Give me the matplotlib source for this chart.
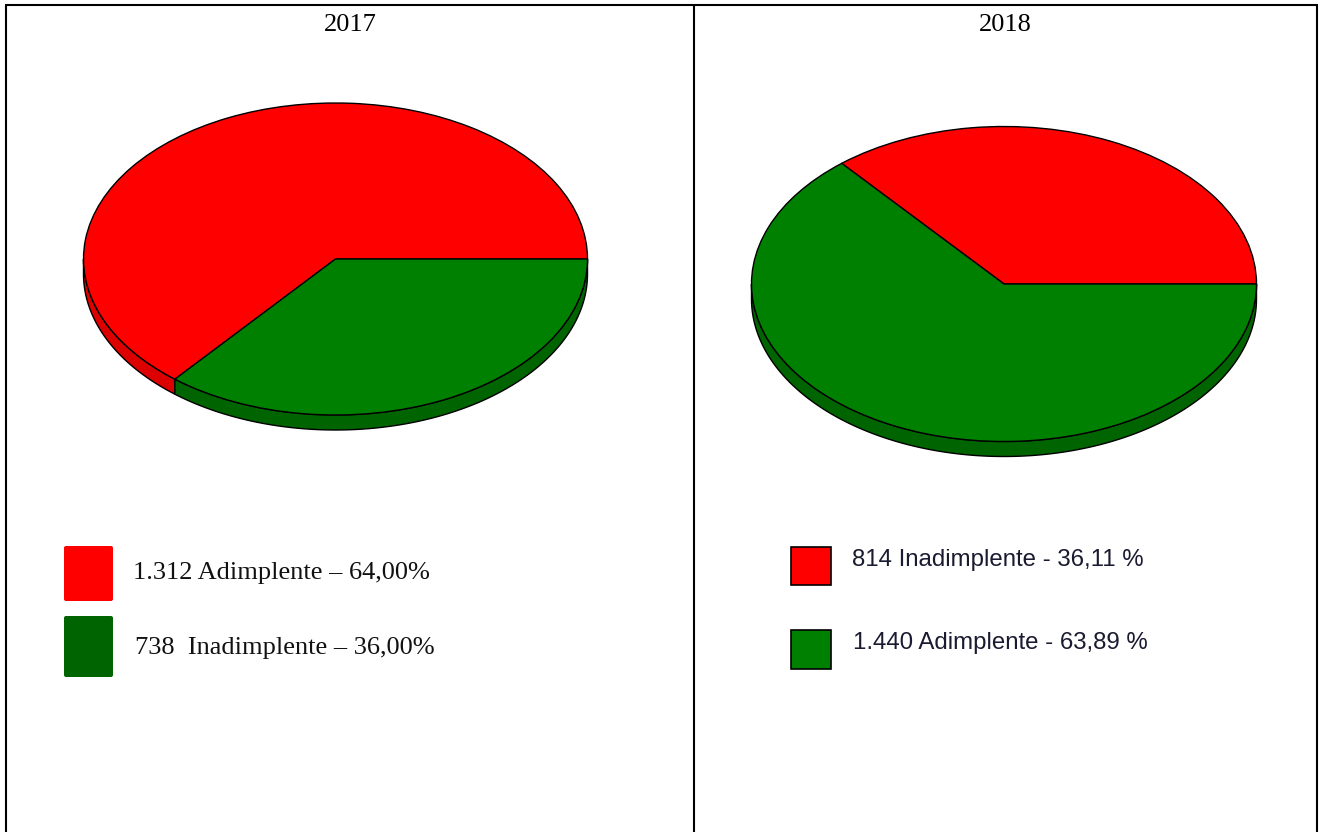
"""Two pseudo-3D pies, 2017 and 2018, in a table-like frame."""

import matplotlib

matplotlib.use("Agg")

import matplotlib.pyplot as plt
import numpy as np
from matplotlib.patches import FancyBboxPatch, Rectangle

W, H = 1324, 832

YEARS = ["2017", "2018"]

VALUES_2017 = [1312, 738]
VALUES_2018 = [814, 1440]

LABELS_2017 = ["1.312 Adimplente – 64,00%", "738  Inadimplente – 36,00%"]
LABELS_2018 = ["814 Inadimplente - 36,11 %", "1.440 Adimplente - 63,89 %"]

RED = "#ff0000"
GREEN = "#008000"
DARK_RED = "#dd0000"
DARK_GREEN = "#006400"


def draw_pie(fig, cx, cy, rx, ry, depth, values, colors, side_colors):
    # axes limits are +-1.25, so one data unit is rx by ry pixels
    ax = fig.add_axes(
        [(cx - 1.25 * rx) / W, 1 - (cy + 1.25 * ry) / H, 2.5 * rx / W, 2.5 * ry / H]
    )
    d = depth / ry
    edges = np.cumsum([0] + values) / sum(values) * 2 * np.pi
    for start, stop, col in zip(edges[:-1], edges[1:], side_colors):
        lo = max(start, np.pi)
        if stop <= lo:
            continue
        t = np.linspace(lo, stop, 200)
        xs = np.cos(t)
        ys = np.sin(t)
        ax.fill(
            np.r_[xs, xs[::-1]],
            np.r_[ys, ys[::-1] - d],
            facecolor=col,
            edgecolor="black",
            linewidth=1.0,
        )
    ax.pie(
        values,
        colors=colors,
        startangle=0,
        counterclock=True,
        wedgeprops={"edgecolor": "black", "linewidth": 1.0},
    )
    ax.set_aspect("auto")
    ax.set_xlim(-1.25, 1.25)
    ax.set_ylim(-1.25, 1.25)
    return ax


def main() -> None:
    fig = plt.figure(figsize=(W / 100, H / 100), dpi=100, facecolor="white")

    # pixel-based base layer for frame, titles and legends
    base = fig.add_axes([0, 0, 1, 1])
    base.set_xlim(0, W)
    base.set_ylim(H, 0)
    base.axis("off")

    for x in (6, 694, 1317):
        base.plot([x, x], [5, H], color="black", linewidth=1.5, solid_capstyle="butt")
    base.plot([5, 1318], [5, 5], color="black", linewidth=1.5, solid_capstyle="butt")

    serif = "Liberation Serif"
    sans = "Liberation Sans"
    base.text(350, 31, YEARS[0], family=serif, fontsize=19, ha="center", color="black")
    base.text(1005, 31, YEARS[1], family=serif, fontsize=19, ha="center", color="black")

    draw_pie(fig, 335.5, 259, 252, 156, 15, VALUES_2017,
             [RED, GREEN], [DARK_RED, DARK_GREEN])
    draw_pie(fig, 1004, 284, 252.5, 157.5, 15, VALUES_2018,
             [RED, GREEN], [DARK_RED, DARK_GREEN])

    base.add_patch(FancyBboxPatch((64, 546), 49, 55, boxstyle="round,pad=0,rounding_size=2",
                                  facecolor=RED, edgecolor="none"))
    base.add_patch(FancyBboxPatch((64, 616), 49, 61, boxstyle="round,pad=0,rounding_size=2",
                                  facecolor=DARK_GREEN, edgecolor="none"))
    base.text(133, 579, LABELS_2017[0], family=serif, fontsize=19, color="#111111")
    base.text(135, 654, LABELS_2017[1], family=serif, fontsize=19, color="#111111")

    base.add_patch(Rectangle((791, 547), 40, 38, facecolor=RED, edgecolor="black", linewidth=1.2))
    base.add_patch(Rectangle((791, 630), 40, 39, facecolor=GREEN, edgecolor="black", linewidth=1.2))
    base.text(852, 566, LABELS_2018[0], family=sans, fontsize=17.3, color="#1a1a30")
    base.text(853, 649, LABELS_2018[1], family=sans, fontsize=17.3, color="#1a1a30")

    fig.savefig("out.png", dpi=100)


if __name__ == "__main__":
    main()
